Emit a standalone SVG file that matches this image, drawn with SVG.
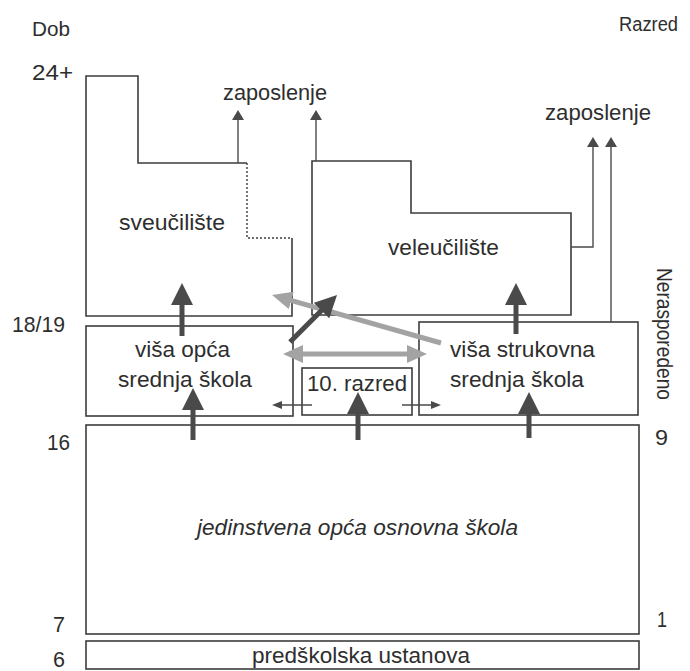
<svg xmlns="http://www.w3.org/2000/svg" width="690" height="671" viewBox="0 0 690 671">
<style>
.bx{fill:none;stroke:#3c3c3c;stroke-width:1.6}
.dot{fill:none;stroke:#3c3c3c;stroke-width:1.4;stroke-dasharray:2 2}
.t{font-family:"Liberation Sans",Arial,sans-serif;font-size:22px;fill:#2e2e2e}
.s{font-size:20px}
.it{font-style:italic}
.thin{fill:none;stroke:#4a4a4a;stroke-width:1.4}
.dk{fill:none;stroke:#4a4a4a;stroke-width:5}
.lt{fill:none;stroke:#a3a3a3;stroke-width:5}
</style>
<defs>
<marker id="hd" viewBox="0 0 22 22" refX="6" refY="11" markerWidth="22" markerHeight="22" markerUnits="userSpaceOnUse" orient="auto"><path d="M0,0 L22,11 L0,22 Z" fill="#4a4a4a"/></marker>
<marker id="hl" viewBox="0 0 20 18" refX="6" refY="9" markerWidth="20" markerHeight="18" markerUnits="userSpaceOnUse" orient="auto-start-reverse"><path d="M0,0 L20,9 L0,18 Z" fill="#a3a3a3"/></marker>
<marker id="hz" viewBox="0 0 10 12" refX="4" refY="6" markerWidth="10" markerHeight="12" markerUnits="userSpaceOnUse" orient="auto"><path d="M0,0 L10,6 L0,12 Z" fill="#4a4a4a"/></marker>
<marker id="hs" viewBox="0 0 10 8" refX="6" refY="4" markerWidth="10" markerHeight="8" markerUnits="userSpaceOnUse" orient="auto"><path d="M0,0 L10,4 L0,8 Z" fill="#4a4a4a"/></marker>
</defs>
<rect width="690" height="671" fill="#fff"/>

<g id="axis-labels">
<text class="t s" x="32" y="36" textLength="38" lengthAdjust="spacingAndGlyphs">Dob</text>
<text class="t s" x="619" y="31" textLength="59" lengthAdjust="spacingAndGlyphs">Razred</text>
<text class="t" x="32" y="80" textLength="41" lengthAdjust="spacingAndGlyphs">24+</text>
<text class="t" x="12" y="332" textLength="53" lengthAdjust="spacingAndGlyphs">18/19</text>
<text class="t" x="47" y="450" textLength="23" lengthAdjust="spacingAndGlyphs">16</text>
<text class="t" x="53" y="632" textLength="12" lengthAdjust="spacingAndGlyphs">7</text>
<text class="t" x="53" y="667" textLength="12" lengthAdjust="spacingAndGlyphs">6</text>
<text class="t" x="655" y="445" textLength="13" lengthAdjust="spacingAndGlyphs">9</text>
<text class="t" x="657" y="627" textLength="10" lengthAdjust="spacingAndGlyphs">1</text>
<text class="t" transform="translate(657,268) rotate(90)" x="0" y="0" textLength="132" lengthAdjust="spacingAndGlyphs">Nerasporedeno</text>
</g>

<g id="sveuciliste">
<path class="bx" d="M247,163 H138 V76 H86 V316 H292 V238"/>
<path class="dot" d="M247,163 V238 H292"/>
<text class="t" x="119" y="230" textLength="106" lengthAdjust="spacingAndGlyphs">sveučilište</text>
</g>

<g id="veleuciliste">
<path class="bx" d="M312,161 H411 V213 H571 V315 H312 Z"/>
<text class="t" x="388" y="255" textLength="111" lengthAdjust="spacingAndGlyphs">veleučilište</text>
</g>

<g id="zaposlenje-1">
<text class="t" x="223" y="100" textLength="104" lengthAdjust="spacingAndGlyphs">zaposlenje</text>
</g>
<g id="zaposlenje-2">
<text class="t" x="545" y="120" textLength="106" lengthAdjust="spacingAndGlyphs">zaposlenje</text>
</g>

<g id="visa-opca">
<rect class="bx" x="86" y="326" width="207" height="90"/>
<text class="t" x="135" y="357" textLength="95" lengthAdjust="spacingAndGlyphs">viša opća</text>
<text class="t" x="118" y="387" textLength="134" lengthAdjust="spacingAndGlyphs">srednja škola</text>
</g>

<g id="deseti-razred">
<rect class="bx" x="302" y="368" width="110" height="47"/>
<text class="t" x="307" y="391" textLength="100" lengthAdjust="spacingAndGlyphs">10. razred</text>
</g>

<g id="visa-strukovna">
<rect class="bx" x="419" y="322" width="219" height="93"/>
<text class="t" x="450" y="357" textLength="145" lengthAdjust="spacingAndGlyphs">viša strukovna</text>
<text class="t" x="450" y="387" textLength="134" lengthAdjust="spacingAndGlyphs">srednja škola</text>
</g>

<g id="osnovna">
<rect class="bx" x="86" y="425" width="553" height="209"/>
<text class="t it" x="197" y="535" textLength="321" lengthAdjust="spacingAndGlyphs">jedinstvena opća osnovna škola</text>
</g>

<g id="predskolska">
<rect class="bx" x="86" y="641" width="553" height="28"/>
<text class="t" x="252" y="663" textLength="218" lengthAdjust="spacingAndGlyphs">predškolska ustanova</text>
</g>

<g id="connectors">
<path class="thin" d="M238,163 V116" marker-end="url(#hz)"/>
<path class="thin" d="M316,161 V116" marker-end="url(#hz)"/>
<path class="thin" d="M571,247 H593 V143" marker-end="url(#hz)"/>
<path class="thin" d="M611,322 V143" marker-end="url(#hz)"/>

<path class="dk" d="M182,336 V299" marker-end="url(#hd)"/>
<path class="dk" d="M193,440 V404" marker-end="url(#hd)"/>
<path class="dk" d="M358,440 V408" marker-end="url(#hd)"/>
<path class="dk" d="M529,438 V408" marker-end="url(#hd)"/>
<path class="dk" d="M516,334 V299" marker-end="url(#hd)"/>

<path class="thin" d="M312,405 H276" marker-end="url(#hs)"/>
<path class="thin" d="M402,405 H437" marker-end="url(#hs)"/>

<path class="lt" d="M297,354 H413" marker-start="url(#hl)" marker-end="url(#hl)"/>
<path class="lt" d="M441,343 L285.5,298.8" marker-end="url(#hl)"/>
<path class="dk" d="M290,342 L325.7,306.3" marker-end="url(#hd)"/>
</g>
</svg>
